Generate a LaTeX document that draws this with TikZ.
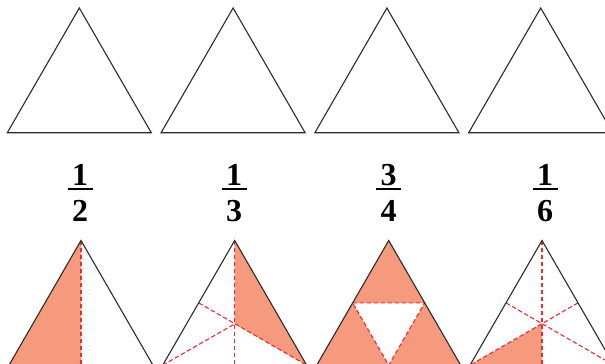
\documentclass[tikz,border=0pt]{standalone}
\usepackage{fontspec}
\setmainfont{Liberation Serif}
\definecolor{fillc}{HTML}{F59A7D}
\definecolor{redd}{HTML}{EE2A2F}
\definecolor{edgec}{HTML}{2B2B2B}
\tikzset{
  edgeline/.style={draw=edgec, line width=1.1pt, line join=miter},
  cutline/.style={draw=redd, line width=1.1pt, dash pattern=on 4.5pt off 2.5pt},
  shaded/.style={fill=fillc, draw=none},
  digit/.style={font=\fontsize{32}{32}\selectfont\bfseries, inner sep=0pt, anchor=base},
  fracbar/.style={line width=1.5pt, draw=black}
}
\newcommand\mkpts[1]{%
  \coordinate (A) at (#1,240.5);
  \coordinate (B) at (#1-72,365.2);
  \coordinate (C) at (#1+72,365.2);
  \coordinate (L) at (#1-36,302.85);
  \coordinate (R) at (#1+36,302.85);
  \coordinate (M) at (#1,365.2);
  \coordinate (G) at (#1,323.93);
}
\newcommand\mkfrac[4]{%
  \node[digit] (n#1) at (#2,185.3) {#3};
  \node[digit] (d#1) at (#2,221) {#4};
  \coordinate (bl#1) at (#2-12.5,188.8);
  \coordinate (br#1) at (#2+12.5,188.8);
  \draw[fracbar] (bl#1) -- (br#1);
}
\begin{document}
\begin{tikzpicture}[x=1pt,y=-1pt]
\useasboundingbox (0,0) rectangle (605,364);
\begin{scope}
\clip (0,0) rectangle (605,364);
% top row
\foreach \cx in {79.3,233.1,386.9,540.7}{
  \draw[edgeline] (\cx,8) -- (\cx-72,132.7) -- (\cx+72,132.7) -- cycle;
}
% fractions
\mkfrac{1}{80}{1}{2}
\mkfrac{2}{234}{1}{3}
\mkfrac{3}{388.5}{3}{4}
\mkfrac{4}{545}{1}{6}
% bottom triangle 1: 1/2
\mkpts{81}
\fill[shaded] (A) -- (B) -- (M) -- cycle;
\draw[cutline] (A) -- (M);
\draw[edgeline] (A) -- (B) -- (C) -- cycle;
% bottom triangle 2: 1/3
\mkpts{234.7}
\fill[shaded] (A) -- (G) -- (C) -- cycle;
\draw[cutline] (A) -- (M);
\draw[cutline] (L) -- (C);
\draw[cutline] (B) -- (G);
\draw[edgeline] (A) -- (B) -- (C) -- cycle;
% bottom triangle 3: 3/4
\mkpts{388.7}
\fill[shaded] (A) -- (B) -- (C) -- cycle;
\fill[white] (L) -- (R) -- (M) -- cycle;
\draw[cutline] (L) -- (R) -- (M) -- cycle;
\draw[edgeline] (A) -- (B) -- (C) -- cycle;
% bottom triangle 4: 1/6
\mkpts{542}
\fill[shaded] (B) -- (G) -- (M) -- cycle;
\draw[cutline] (A) -- (M);
\draw[cutline] (L) -- (C);
\draw[cutline] (R) -- (B);
\draw[edgeline] (A) -- (B) -- (C) -- cycle;
\end{scope}
\end{tikzpicture}
\end{document}
